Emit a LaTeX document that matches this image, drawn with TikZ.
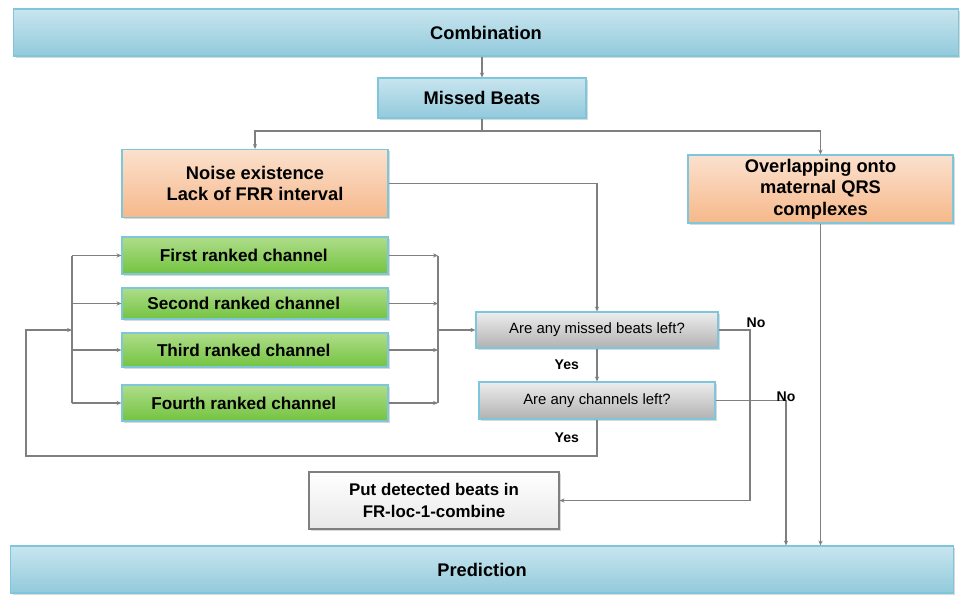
\documentclass[tikz,border=0pt]{standalone}
\usepackage{fontspec}
\setmainfont{Liberation Sans}
\usetikzlibrary{arrows.meta,shadows}
\definecolor{blueTop}{HTML}{C8E5EF}
\definecolor{blueBot}{HTML}{92CADC}
\definecolor{orangeTop}{HTML}{FBE1CE}
\definecolor{orangeBot}{HTML}{F6B88A}
\definecolor{greenTop}{HTML}{AEDD8A}
\definecolor{greenBot}{HTML}{74C340}
\definecolor{grayTop}{HTML}{EDEDED}
\definecolor{grayBot}{HTML}{B2B2B2}
\definecolor{boxEdge}{HTML}{7EC6DA}
\definecolor{linkGray}{HTML}{7F7F7F}
\begin{document}
\begin{tikzpicture}[x=0.025cm, y=-0.025cm,
	box/.style={draw=boxEdge, line width=0.8pt, inner sep=2pt, align=center,
		drop shadow={shadow xshift=1.2pt, shadow yshift=-1.2pt, opacity=0.3}},
	bluebox/.style={box, top color=blueTop, bottom color=blueBot,
		font=\fontsize{13}{15.5}\selectfont\bfseries},
	causebox/.style={box, top color=orangeTop, bottom color=orangeBot,
		minimum height=1.7cm, font=\fontsize{13}{15.2}\selectfont\bfseries},
	chanbox/.style={box, top color=greenTop, bottom color=greenBot,
		minimum width=6.65cm, font=\fontsize{12.2}{14}\selectfont\bfseries,
		execute at end node={\hspace*{16pt}}},
	askbox/.style={box, top color=grayTop, bottom color=grayBot,
		minimum height=0.9cm, font=\fontsize{10.6}{12}\selectfont},
	putbox/.style={box, draw=linkGray, top color=white, bottom color=black!9,
		font=\fontsize{12}{15}\selectfont\bfseries},
	link/.style={draw=linkGray, line width=0.9pt},
	arr/.style={link, -{Stealth[length=3.5pt, width=3pt]}},
	yesno/.style={font=\fontsize{10}{12}\selectfont\bfseries, inner sep=1pt}]
	\useasboundingbox (0,0) rectangle (960,594);

	% Top and bottom bars
	\node[bluebox, minimum width=23.6cm, minimum height=1.175cm] (comb) at (486,32.5) {Combination};
	\node[bluebox, minimum width=23.55cm, minimum height=1.175cm] (pred) at (482,569.5) {Prediction};
	\node[bluebox, minimum width=5.2cm, minimum height=1cm] (missed) at (482,98) {Missed Beats};

	% Causes of missed beats
	\node[causebox, minimum width=6.65cm] (noise) at (255,183.5) {Noise existence\\Lack of FRR interval};
	\node[causebox, minimum width=6.625cm] (overlap) at (820.5,189) {Overlapping onto\\maternal QRS\\complexes};

	% Ranked channels
	\node[chanbox, minimum height=0.925cm] (ch1) at (255,255.5) {First ranked channel};
	\node[chanbox, minimum height=0.775cm] (ch2) at (255,303.5) {Second ranked channel};
	\node[chanbox, minimum height=0.85cm] (ch3) at (255,350) {Third ranked channel};
	\node[chanbox, minimum height=0.9cm] (ch4) at (255,403) {Fourth ranked channel};

	% Decisions
	\node[askbox, minimum width=6.05cm] (q1) at (597,330) {Are any missed beats left?};
	\node[askbox, minimum width=5.9cm, minimum height=0.925cm] (q2) at (597,400.5) {Are any channels left?};
	\node[putbox, minimum width=6.25cm, minimum height=1.425cm] (put) at (434,500.5) {Put detected beats in\\FR-loc-1-combine};

	% Bend points
	\coordinate (split) at (482,131);
	\coordinate (lbus) at (72,330);
	\coordinate (rbus) at (438,330);
	\coordinate (loopL) at (26,456);
	\coordinate (noA) at (750,498);
	\coordinate (noB) at (786,400.5);

	% Connectors
	\draw[arr] (comb.south -| missed.north) -- (missed.north);
	\draw[link] (missed.south) -- (split);
	\draw[arr] (split) -| (noise.north);
	\draw[arr] (split) -| (overlap.north);
	\draw[arr] (noise.east) -| (q1.north);

	\draw[link] (ch1.west -| lbus) -- (ch4.west -| lbus);
	\draw[link] (ch1.east -| rbus) -- (ch4.east -| rbus);
	\foreach \c in {ch1,ch2,ch3,ch4} {
		\draw[arr] (\c.west -| lbus) -- (\c.west);
		\draw[arr] (\c.east) -- (\c.east -| rbus);
	}
	\draw[arr] (rbus) -- (q1.west);

	\draw[arr] (q1.south) -- node[yesno, left=4mm] {Yes} (q2.north);
	\draw[arr] (q2.south) |- node[yesno, pos=0.25, left=4mm] {Yes} (loopL) |- (lbus);
	\draw[arr] (q1.east) -| node[yesno, pos=0.5, above, xshift=1.5mm] {No} (noA) |- (put.east);
	\draw[arr] (q2.east) -- (noB) node[yesno, yshift=3pt] {No} -- (noB |- pred.north);
	\draw[arr] (overlap.south) -- (overlap.south |- pred.north);
\end{tikzpicture}
\end{document}
